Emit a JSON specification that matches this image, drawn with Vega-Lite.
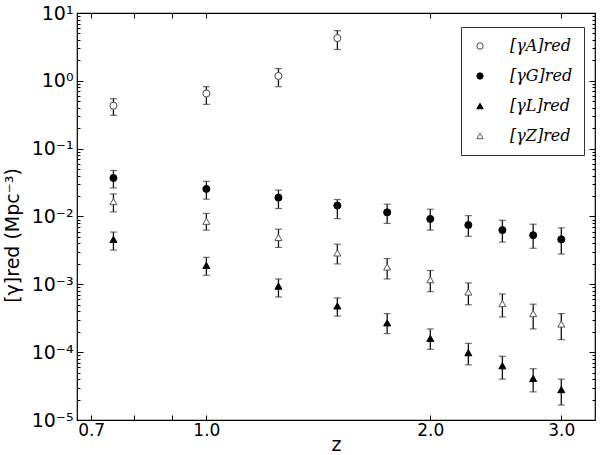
{
  "$schema": "https://vega.github.io/schema/vega-lite/v6.json",
  "width": 518,
  "height": 407,
  "autosize": {"type": "none"},
  "padding": {"left": 77, "top": 13, "right": 5, "bottom": 35},
  "background": "white",
  "config": {
    "view": {"stroke": "black", "strokeWidth": 1.2},
    "font": "DejaVu Sans",
    "axis": {"grid": false, "domain": false, "tickColor": "black", "labelColor": "black", "titleColor": "black", "titleFontWeight": "normal", "labelFont": "DejaVu Sans", "titleFont": "DejaVu Sans"},
    "legend": {"strokeColor": "#333333", "fillColor": "white", "padding": 11, "rowPadding": 14, "labelFont": "DejaVu Serif", "labelFontStyle": "italic", "labelFontSize": 16, "symbolSize": 40, "symbolStrokeWidth": 1, "labelLimit": 200, "labelColor": "black"}
  },
  "data": {"values": [
    {"z": 0.75, "s": "[γA]red", "v": 0.43, "lo": 0.31, "hi": 0.545},
    {"z": 1.0, "s": "[γA]red", "v": 0.65, "lo": 0.45, "hi": 0.82},
    {"z": 1.25, "s": "[γA]red", "v": 1.18, "lo": 0.82, "hi": 1.52},
    {"z": 1.5, "s": "[γA]red", "v": 4.26, "lo": 2.9, "hi": 5.5},
    {"z": 0.75, "s": "[γG]red", "v": 0.037, "lo": 0.0264, "hi": 0.0477},
    {"z": 1.0, "s": "[γG]red", "v": 0.0255, "lo": 0.018, "hi": 0.033},
    {"z": 1.25, "s": "[γG]red", "v": 0.019, "lo": 0.0131, "hi": 0.0245},
    {"z": 1.5, "s": "[γG]red", "v": 0.0145, "lo": 0.0093, "hi": 0.0178},
    {"z": 1.75, "s": "[γG]red", "v": 0.0115, "lo": 0.0079, "hi": 0.0152},
    {"z": 2.0, "s": "[γG]red", "v": 0.0092, "lo": 0.0063, "hi": 0.0128},
    {"z": 2.25, "s": "[γG]red", "v": 0.0075, "lo": 0.0051, "hi": 0.0103},
    {"z": 2.5, "s": "[γG]red", "v": 0.0063, "lo": 0.0042, "hi": 0.0088},
    {"z": 2.75, "s": "[γG]red", "v": 0.0053, "lo": 0.0034, "hi": 0.0077},
    {"z": 3.0, "s": "[γG]red", "v": 0.0046, "lo": 0.0028, "hi": 0.0068},
    {"z": 0.75, "s": "[γL]red", "v": 0.0046, "lo": 0.0032, "hi": 0.0059},
    {"z": 1.0, "s": "[γL]red", "v": 0.0019, "lo": 0.00136, "hi": 0.0025},
    {"z": 1.25, "s": "[γL]red", "v": 0.00094, "lo": 0.00065, "hi": 0.0012},
    {"z": 1.5, "s": "[γL]red", "v": 0.00048, "lo": 0.00034, "hi": 0.00063},
    {"z": 1.75, "s": "[γL]red", "v": 0.00027, "lo": 0.000188, "hi": 0.00037},
    {"z": 2.0, "s": "[γL]red", "v": 0.00016, "lo": 0.00011, "hi": 0.00022},
    {"z": 2.25, "s": "[γL]red", "v": 0.000098, "lo": 0.000065, "hi": 0.000135},
    {"z": 2.5, "s": "[γL]red", "v": 0.000063, "lo": 0.00004, "hi": 0.000087},
    {"z": 2.75, "s": "[γL]red", "v": 0.000041, "lo": 0.000026, "hi": 0.000057},
    {"z": 3.0, "s": "[γL]red", "v": 0.000028, "lo": 0.0000166, "hi": 0.00004},
    {"z": 0.75, "s": "[γZ]red", "v": 0.0166, "lo": 0.0117, "hi": 0.0215},
    {"z": 1.0, "s": "[γZ]red", "v": 0.0085, "lo": 0.0063, "hi": 0.0111},
    {"z": 1.25, "s": "[γZ]red", "v": 0.0049, "lo": 0.0035, "hi": 0.0065},
    {"z": 1.5, "s": "[γZ]red", "v": 0.0029, "lo": 0.002, "hi": 0.0039},
    {"z": 1.75, "s": "[γZ]red", "v": 0.0018, "lo": 0.0012, "hi": 0.0024},
    {"z": 2.0, "s": "[γZ]red", "v": 0.00117, "lo": 0.00078, "hi": 0.0016},
    {"z": 2.25, "s": "[γZ]red", "v": 0.00077, "lo": 0.0005, "hi": 0.00105},
    {"z": 2.5, "s": "[γZ]red", "v": 0.00052, "lo": 0.00033, "hi": 0.00072},
    {"z": 2.75, "s": "[γZ]red", "v": 0.00037, "lo": 0.00022, "hi": 0.00051},
    {"z": 3.0, "s": "[γZ]red", "v": 0.00026, "lo": 0.000153, "hi": 0.00037}
  ]},
  "resolve": {"axis": {"x": "independent", "y": "independent"}},
  "layer": [
    {
      "mark": {"type": "rule", "strokeWidth": 1.3, "color": "#111111"},
      "encoding": {
        "x": {"field": "z", "type": "quantitative", "scale": {"type": "log", "domain": [0.67, 3.33], "nice": false},
          "axis": {"orient": "bottom", "values": [0.7, 0.8, 0.9, 1, 2, 3], "labelExpr": "datum.value == 0.7 ? '0.7' : datum.value == 1 ? '1.0' : datum.value == 2 ? '2.0' : datum.value == 3 ? '3.0' : ''", "tickSize": -5, "labelPadding": 7, "labelFontSize": 17, "title": "z", "titleFontSize": 19, "titlePadding": -3}},
        "y": {"field": "lo", "type": "quantitative", "scale": {"type": "log", "domain": [0.00001, 10], "nice": false},
          "axis": {"orient": "left", "values": [0.00001,0.00002,0.00003,0.00004,0.00005,0.00006,0.00007,0.00008,0.00009,0.0001,0.0002,0.0003,0.0004,0.0005,0.0006,0.0007,0.0008,0.0009,0.001,0.002,0.003,0.004,0.005,0.006,0.007,0.008,0.009,0.01,0.02,0.03,0.04,0.05,0.06,0.07,0.08,0.09,0.1,0.2,0.3,0.4,0.5,0.6,0.7,0.8,0.9,1,2,3,4,5,6,7,8,9,10],
            "labelExpr": "datum.value == 10 ? '10¹' : datum.value == 1 ? '10⁰' : datum.value == 0.1 ? '10⁻¹' : datum.value == 0.01 ? '10⁻²' : datum.value == 0.001 ? '10⁻³' : datum.value == 0.0001 ? '10⁻⁴' : datum.value == 0.00001 ? '10⁻⁵' : ''",
            "tickSize": {"condition": {"test": "indexof([0.00001,0.0001,0.001,0.01,0.1,1,10], datum.value) >= 0", "value": -6}, "value": -3},
            "labelPadding": 10, "labelFontSize": 19, "labelFlush": false,
            "title": "[γ]red (Mpc⁻³)", "titleFontSize": 19, "titleX": -55, "titleY": 222}},
        "y2": {"field": "hi"}
      }
    },
    {
      "mark": {"type": "tick", "orient": "horizontal", "size": 7, "thickness": 1.2, "color": "#333333"},
      "encoding": {
        "x": {"field": "z", "type": "quantitative",
          "axis": {"orient": "top", "values": [0.7, 0.8, 0.9, 1, 2, 3], "labels": false, "tickSize": -5, "title": null}},
        "y": {"field": "lo", "type": "quantitative",
          "axis": {"orient": "right", "values": [0.00001,0.00002,0.00003,0.00004,0.00005,0.00006,0.00007,0.00008,0.00009,0.0001,0.0002,0.0003,0.0004,0.0005,0.0006,0.0007,0.0008,0.0009,0.001,0.002,0.003,0.004,0.005,0.006,0.007,0.008,0.009,0.01,0.02,0.03,0.04,0.05,0.06,0.07,0.08,0.09,0.1,0.2,0.3,0.4,0.5,0.6,0.7,0.8,0.9,1,2,3,4,5,6,7,8,9,10], "labels": false, "title": null,
            "tickSize": {"condition": {"test": "indexof([0.00001,0.0001,0.001,0.01,0.1,1,10], datum.value) >= 0", "value": -6}, "value": -3}}}
      }
    },
    {
      "mark": {"type": "tick", "orient": "horizontal", "size": 7, "thickness": 1.2, "color": "#333333"},
      "encoding": {
        "x": {"field": "z", "type": "quantitative", "axis": null},
        "y": {"field": "hi", "type": "quantitative", "axis": null}
      }
    },
    {
      "mark": {"type": "point", "size": 50, "strokeWidth": 1, "opacity": 1, "filled": false},
      "encoding": {
        "x": {"field": "z", "type": "quantitative", "axis": null},
        "y": {"field": "v", "type": "quantitative", "axis": null},
        "shape": {"field": "s", "type": "nominal", "scale": {"domain": ["[γA]red", "[γG]red", "[γL]red", "[γZ]red"], "range": ["circle", "circle", "triangle-up", "triangle-up"]},
          "legend": {"orient": "none", "legendX": 384, "legendY": 14, "title": null, "labelOffset": 22}},
        "fill": {"field": "s", "type": "nominal", "scale": {"domain": ["[γA]red", "[γG]red", "[γL]red", "[γZ]red"], "range": ["white", "black", "black", "white"]},
          "legend": {"orient": "none", "legendX": 384, "legendY": 14, "title": null, "labelOffset": 22}},
        "stroke": {"field": "s", "type": "nominal", "scale": {"domain": ["[γA]red", "[γG]red", "[γL]red", "[γZ]red"], "range": ["#444444", "black", "black", "#555555"]},
          "legend": {"orient": "none", "legendX": 384, "legendY": 14, "title": null, "labelOffset": 22}}
      }
    }
  ]
}
